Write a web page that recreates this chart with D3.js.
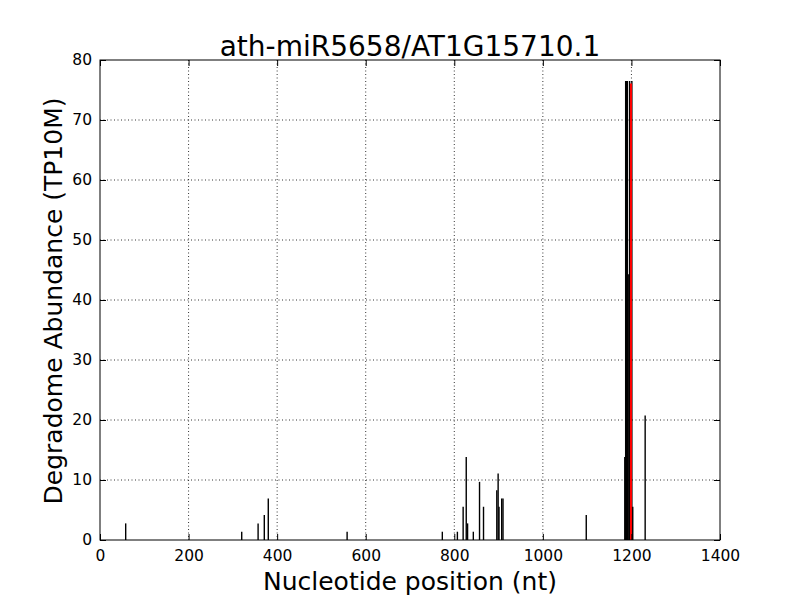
<!DOCTYPE html>
<html><head><meta charset="utf-8">
<script src="https://cdn.jsdelivr.net/npm/d3@7"></script>
<style>body{margin:0;background:#fff}text{font-family:"DejaVu Sans",sans-serif}</style>
</head><body><svg id="c" width="800" height="600"></svg>
<script>
const title = "ath-miR5658/AT1G15710.1";
const xLabel = "Nucleotide position (nt)";
const yLabel = "Degradome Abundance (TP10M)";
const xTicks = [0,200,400,600,800,1000,1200,1400];
const yTicks = [0,10,20,30,40,50,60,70,80];
const positions = [58,320,357,371,380,558,773,807,820,827,830,843,857,866,896,899,901,907,910,1098,1185,1187,1189,1191,1194,1196,1201,1203,1231];
const abundance = [2.77,1.38,2.77,4.15,6.92,1.38,1.38,1.38,5.54,13.84,2.77,1.38,9.69,5.54,8.30,11.07,5.54,6.92,6.92,4.15,13.84,76.5,76.5,76.5,44.3,76.5,76.5,5.54,20.76];
const cleavagePos = [1199];
const cleavageVal = [76.1];

const svg = d3.select("#c");
const L=100,R=720,T=60,B=540;
const x = d3.scaleLinear().domain([0,1400]).range([L,R]);
const y = d3.scaleLinear().domain([0,80]).range([B,T]);

// grid
const g = svg.append("g");
g.selectAll(".gx").data(xTicks.slice(1,-1)).enter().append("line")
 .attr("x1",d=>x(d)).attr("x2",d=>x(d)).attr("y1",T).attr("y2",B)
 .attr("stroke","#000").attr("stroke-width",0.8).attr("stroke-dasharray","1,2.5");
g.selectAll(".gy").data(yTicks.slice(1,-1)).enter().append("line")
 .attr("y1",d=>y(d)).attr("y2",d=>y(d)).attr("x1",L).attr("x2",R)
 .attr("stroke","#000").attr("stroke-width",0.8).attr("stroke-dasharray","1,2.5");

// bars
const data = positions.map((p,i)=>({p, v:abundance[i]}));
svg.append("g").selectAll("line").data(data).enter().append("line")
 .attr("x1",d=>x(d.p)).attr("x2",d=>x(d.p)).attr("y1",B).attr("y2",d=>y(d.v))
 .attr("stroke","#000").attr("stroke-width",1.4);

svg.append("g").selectAll("line").data(cleavagePos.map((p,i)=>({p,v:cleavageVal[i]}))).enter().append("line")
 .attr("x1",d=>x(d.p)).attr("x2",d=>x(d.p)).attr("y1",B).attr("y2",d=>y(d.v))
 .attr("stroke","#ff0000").attr("stroke-width",2);

// axes with inward ticks
const fmt = d3.format("d");
const ax = d3.axisBottom(x).tickValues(xTicks).tickFormat(fmt).tickSizeInner(-6).tickSizeOuter(0).tickPadding(10);
svg.append("g").attr("transform",`translate(0,${B})`).call(ax);
const at = d3.axisTop(x).tickValues(xTicks).tickSizeInner(-6).tickSizeOuter(0).tickFormat("");
svg.append("g").attr("transform",`translate(0,${T})`).call(at);
const ay = d3.axisLeft(y).tickValues(yTicks).tickFormat(fmt).tickSizeInner(-6).tickSizeOuter(0).tickPadding(8);
svg.append("g").attr("transform",`translate(${L},0)`).call(ay);
const ar = d3.axisRight(y).tickValues(yTicks).tickSizeInner(-6).tickSizeOuter(0).tickFormat("");
svg.append("g").attr("transform",`translate(${R},0)`).call(ar);
svg.selectAll(".domain").remove();
svg.selectAll(".tick text").attr("font-size",15.5).attr("font-family","DejaVu Sans").attr("fill","#000");
svg.selectAll(".tick line").attr("stroke","#000");
svg.append("rect").attr("x",L).attr("y",T).attr("width",R-L).attr("height",B-T)
 .attr("fill","none").attr("stroke","#000").attr("stroke-width",1);

svg.append("text").attr("x",410).attr("y",56).attr("text-anchor","middle").attr("font-size",28).text(title);
svg.append("text").attr("x",410).attr("y",590).attr("text-anchor","middle").attr("font-size",25).text(xLabel);
svg.append("text").attr("transform","translate(62,301) rotate(-90)").attr("text-anchor","middle").attr("font-size",25).text(yLabel);
</script></body></html>
